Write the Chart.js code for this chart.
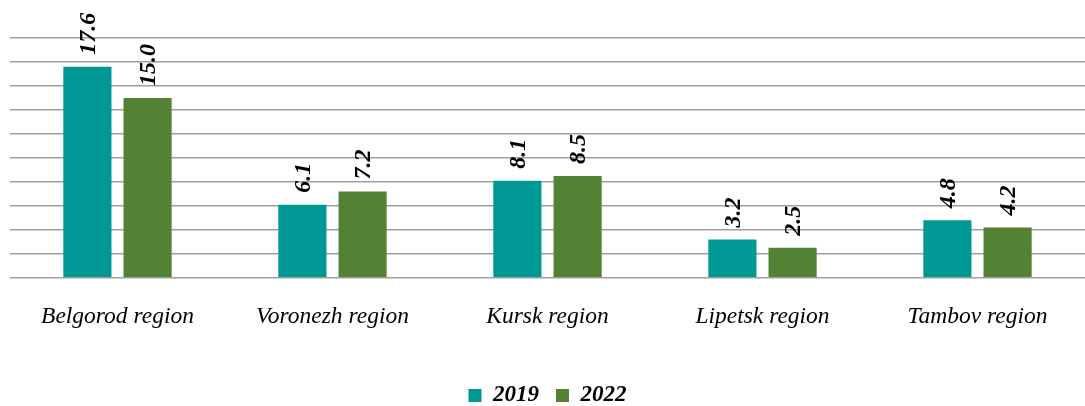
<!DOCTYPE html>
<html>
<head>
<meta charset="utf-8">
<script src="https://cdn.jsdelivr.net/npm/chart.js@4.4.0/dist/chart.umd.min.js"></script>
<style>
  html, body { margin:0; padding:0; background:#fff; }
  #wrap { width:1085px; height:406px; position:relative; }
</style>
</head>
<body>
<div id="wrap"><canvas id="chart"></canvas></div>
<script>
const regions = ['Belgorod region', 'Voronezh region', 'Kursk region', 'Lipetsk region', 'Tambov region'];
const years = ['2019', '2022'];
const values2019 = [17.6, 6.1, 8.1, 3.2, 4.8];
const values2022 = [15.0, 7.2, 8.5, 2.5, 4.2];
const yMin = 0, yMax = 20, yStep = 2;

const TEAL = '#009894';
const GREEN = '#548235';
const SERIF = "'Liberation Serif', 'Times New Roman', serif";

// draws the rotated value labels above each bar
const valueLabels = {
  id: 'valueLabels',
  afterDatasetsDraw(chart){
    const ctx = chart.ctx;
    ctx.save();
    ctx.font = `italic bold 24px ${SERIF}`;
    ctx.fillStyle = '#000';
    ctx.textAlign = 'left';
    ctx.textBaseline = 'middle';
    chart.data.datasets.forEach((ds, i)=>{
      chart.getDatasetMeta(i).data.forEach((bar, j)=>{
        ctx.save();
        ctx.translate(bar.x + 1, bar.y - 12);
        ctx.rotate(-Math.PI/2);
        ctx.fillText(ds.data[j].toFixed(1), 0, 0);
        ctx.restore();
      });
    });
    ctx.restore();
  }
};

new Chart(document.getElementById('chart'), {
  type: 'bar',
  data: {
    labels: regions,
    datasets: [
      { label: years[0], data: values2019, backgroundColor: TEAL },
      { label: years[1], data: values2022, backgroundColor: GREEN }
    ]
  },
  options: {
    responsive: true,
    maintainAspectRatio: false,
    animation: false,
    layout: { padding: { left: 10, right: 0, top: 38, bottom: -11 } },
    datasets: { bar: { categoryPercentage: 0.56, barPercentage: 0.8 } },
    scales: {
      x: {
        grid: { display: false },
        border: { display: false },
        ticks: { color: '#000', font: { family: SERIF, size: 23.5, style: 'italic' }, padding: 17 },
        afterFit(scale){ scale.height += 19; }
      },
      y: {
        min: yMin, max: yMax,
        ticks: { display: false, stepSize: yStep },
        grid: { color: '#a0a0a0', lineWidth: 1.5, drawTicks: false },
        border: { display: false }
      }
    },
    plugins: {
      legend: {
        position: 'bottom',
        labels: {
          color: '#000',
          font: { family: SERIF, size: 23, style: 'italic', weight: 'bold' },
          boxWidth: 13, boxHeight: 13, padding: 17
        }
      },
      tooltip: { enabled: false }
    }
  },
  plugins: [valueLabels]
});
</script>
</body>
</html>
